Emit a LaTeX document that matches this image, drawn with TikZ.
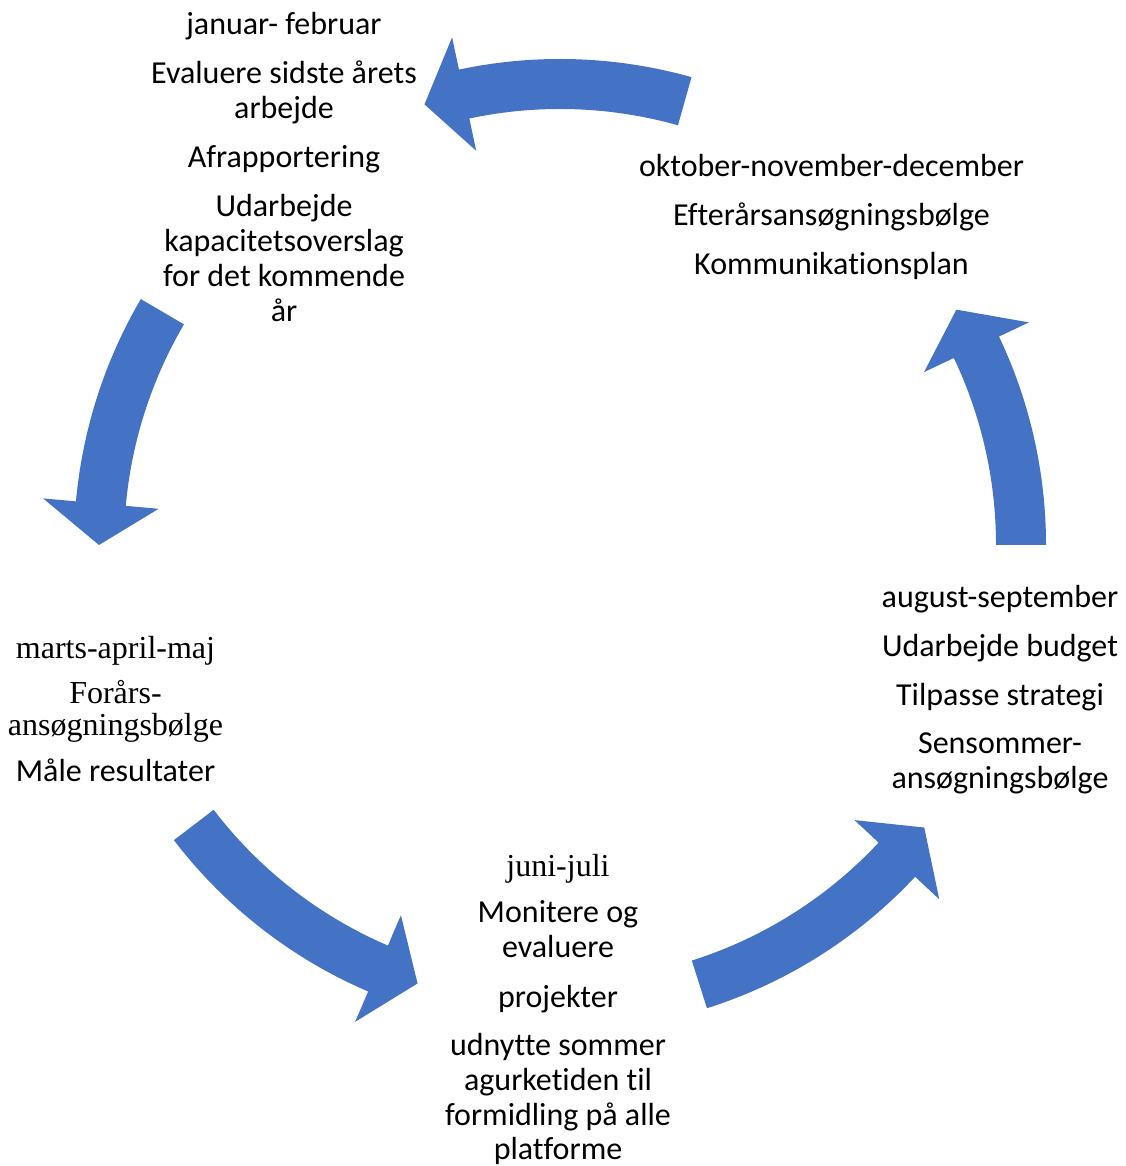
\documentclass[tikz,border=0pt]{standalone}
\usepackage{fontspec}
\setmainfont{Carlito}[Ligatures=NoCommon]
\newfontfamily\tnr{Liberation Serif}[Ligatures=NoCommon]
\definecolor{arrowblue}{HTML}{4472C4}
\tikzset{
  txt/.style={font=\fontsize{32}{35}\selectfont, inner sep=0pt, anchor=base},
  serif/.style={font=\tnr\fontsize{32}{35}\selectfont, inner sep=0pt, anchor=base},
  cyc/.style={fill=arrowblue, draw=none}
}
% #1 tail angle, #2 head-base angle, #3 tip angle
\newcommand{\cycarrow}[3]{%
  \fill[cyc] (#1:486pt) arc[start angle=#1, end angle=#2, radius=486pt]
    -- (#2:519pt) -- (#3:461pt) -- (#2:403pt) -- (#2:436pt)
    arc[start angle=#2, end angle=#1, radius=436pt] -- cycle;
}
\begin{document}
\begin{tikzpicture}[x=1pt,y=1pt]
\useasboundingbox (0,0) rectangle (1125,1166);

% cycle arrows
\begin{scope}[shift={(560,621)}]
  \cycarrow{74.3}{102}{107.1}
  \cycarrow{149.6}{174.85}{180}
  \cycarrow{217.4}{246.75}{252}
  \cycarrow{287.6}{316.95}{322.2}
  \cycarrow{0}{25.4}{30.7}
\end{scope}

% januar - februar
\node[txt] (a1) at (284,1131) {januar- februar};
\node[txt] (a2) at (284,1082) {Evaluere sidste årets};
\node[txt] (a3) at (284,1047) {arbejde};
\node[txt] (a4) at (284,998) {Afrapportering};
\node[txt] (a5) at (284,949) {Udarbejde};
\node[txt] (a6) at (284,914) {kapacitetsoverslag};
\node[txt] (a7) at (284,879) {for det kommende};
\node[txt] (a8) at (284,844) {år};

% oktober - december
\node[txt] (b1) at (831.5,989) {oktober-november-december};
\node[txt] (b2) at (831.5,940) {Efterårsansøgningsbølge};
\node[txt] (b3) at (831.5,891) {Kommunikationsplan};

% august - september
\node[txt] (c1) at (1000,558) {august-september};
\node[txt] (c2) at (1000,509) {Udarbejde budget};
\node[txt] (c3) at (1000,460) {Tilpasse strategi};
\node[txt] (c4) at (1000,412) {Sensommer-};
\node[txt] (c5) at (1000,377) {ansøgningsbølge};

% juni - juli
\node[serif] (d1) at (558,289) {juni-juli};
\node[txt] (d2) at (558,243) {Monitere og};
\node[txt] (d3) at (558,208) {evaluere};
\node[txt] (d4) at (558,158) {projekter};
\node[txt] (d5) at (558,110) {udnytte sommer};
\node[txt] (d6) at (558,75) {agurketiden til};
\node[txt] (d7) at (558,40) {formidling på alle};
\node[txt] (d8) at (558,6.5) {platforme};

% marts - maj
\node[serif] (e1) at (115.5,507) {marts-april-maj};
\node[serif] (e2) at (115.5,462) {Forårs-};
\node[serif] (e3) at (115.5,430) {ansøgningsbølge};
\node[txt] (e4) at (115.5,384) {Måle resultater};
\end{tikzpicture}
\end{document}
